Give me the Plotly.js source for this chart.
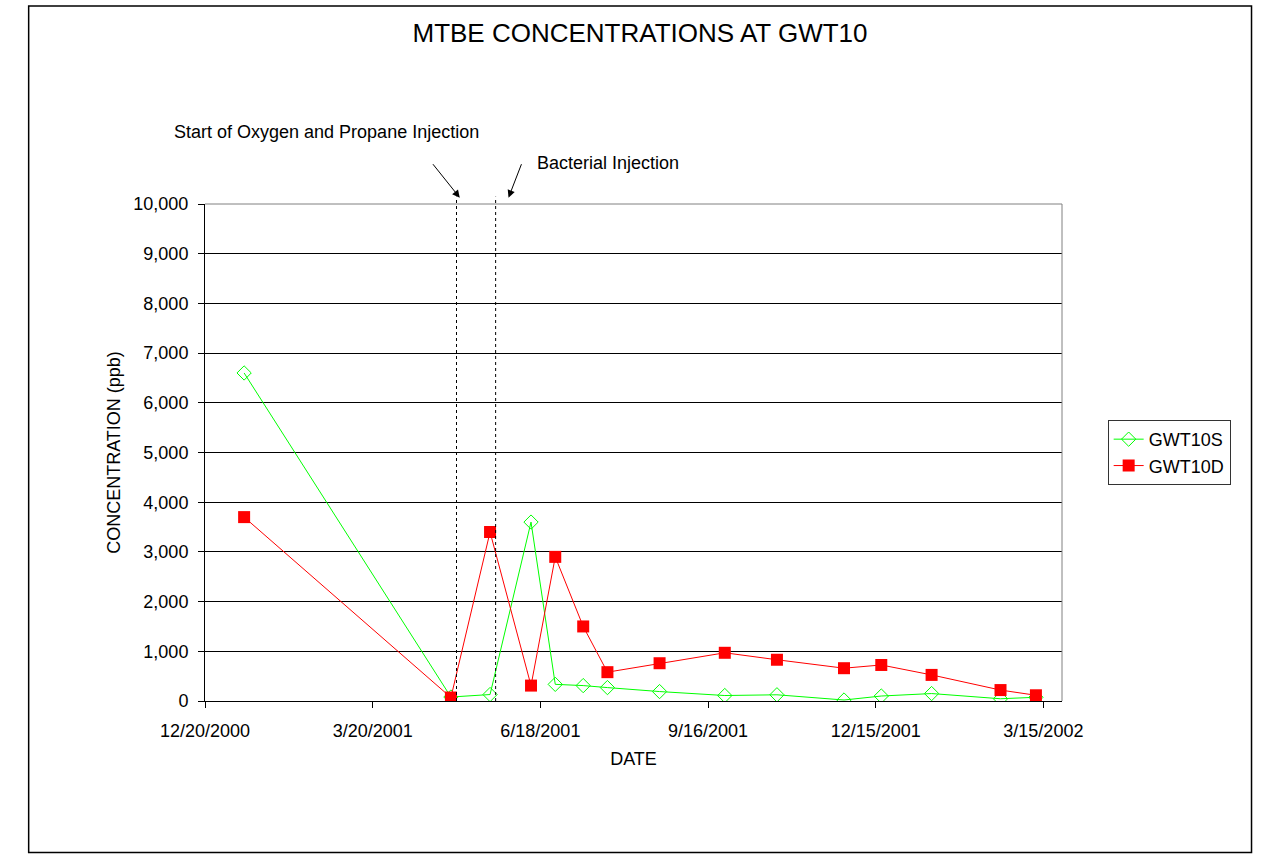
<!DOCTYPE html>
<html>
<head>
<meta charset="utf-8">
<script src="https://cdn.plot.ly/plotly-3.0.1.min.js"></script>
<style>
html,body{margin:0;padding:0;background:#fff;}
#chart{width:1286px;height:862px;}
</style>
</head>
<body>
<div id="chart"></div>
<script>
// ---- data ----
var sampleDates = ['2001-01-10','2001-05-01','2001-05-22','2001-06-13','2001-06-26','2001-07-11','2001-07-24','2001-08-21','2001-09-25','2001-10-23','2001-11-28','2001-12-18','2002-01-14','2002-02-20','2002-03-11'];
var gwt10s = [6600, 80, 130, 3600, 335, 310, 270, 190, 110, 125, 20, 100, 150, 45, 75];
var gwt10d = [3700, 70, 3400, 310, 2900, 1500, 580, 760, 970, 830, 660, 725, 525, 220, 115];
var xTickVals = ['2000-12-20','2001-03-20','2001-06-18','2001-09-16','2001-12-15','2002-03-15'];
var xTickText = ['12/20/2000','3/20/2001','6/18/2001','9/16/2001','12/15/2001','3/15/2002'];
var yTickVals = [0,1000,2000,3000,4000,5000,6000,7000,8000,9000,10000];
var yTickText = ['0','1,000','2,000','3,000','4,000','5,000','6,000','7,000','8,000','9,000','10,000'];
var eventDates = ['2001-05-04','2001-05-25'];
var eventLabels = ['Start of Oxygen and Propane Injection','Bacterial Injection'];

var FONT = 'Arial, "Liberation Sans", sans-serif';

var traces = [
  {x: sampleDates, y: gwt10s, name: 'GWT10S', type: 'scatter', mode: 'lines+markers',
   line: {color: '#00FF00', width: 1},
   marker: {symbol: 'diamond-open', size: 11, color: '#00FF00', line: {width: 1, color: '#00FF00'}}},
  {x: sampleDates, y: gwt10d, name: 'GWT10D', type: 'scatter', mode: 'lines+markers',
   line: {color: '#FF0000', width: 1},
   marker: {symbol: 'square', size: 12, color: '#FF0000', line: {width: 0}}}
];

// plot area geometry (px)
var L = 204.5, R = 1062.3, T = 204.3, B = 700.7;
var W = R - L, H = B - T;
function px(xp){ return (xp - L) / W; }
function py(yp){ return (B - yp) / H; }

var shapes = [
  // outer chart border
  {type: 'rect', xref: 'paper', yref: 'paper', x0: px(28), x1: px(1252), y0: py(852), y1: py(6.5),
   line: {color: '#000', width: 1.5}, layer: 'below'},
  // plot area top and right border (grey)
  {type: 'line', xref: 'paper', yref: 'paper', x0: 0, x1: 1, y0: 1, y1: 1, line: {color: '#808080', width: 1}},
  {type: 'line', xref: 'paper', yref: 'paper', x0: 1, x1: 1, y0: 0, y1: 1, line: {color: '#808080', width: 1}}
];
eventDates.forEach(function(d){
  shapes.push({type: 'line', xref: 'x', yref: 'paper', x0: d, x1: d, y0: 0, y1: py(197),
    line: {color: '#000', width: 1, dash: 'dot'}});
});

var annotations = [
  {xref: 'paper', yref: 'paper', x: px(326.5), y: py(132), text: eventLabels[0], showarrow: false,
   font: {family: FONT, size: 18, color: '#000'}, xanchor: 'center', yanchor: 'middle'},
  {xref: 'paper', yref: 'paper', x: px(608), y: py(163), text: eventLabels[1], showarrow: false,
   font: {family: FONT, size: 18, color: '#000'}, xanchor: 'center', yanchor: 'middle'},
  {xref: 'paper', yref: 'paper', x: px(459.5), y: py(198), ax: -28, ay: -35, text: '', showarrow: true,
   arrowhead: 2, arrowsize: 1.5, arrowwidth: 1, arrowcolor: '#000', standoff: 0},
  {xref: 'paper', yref: 'paper', x: px(508.3), y: py(198), ax: 13.5, ay: -35, text: '', showarrow: true,
   arrowhead: 2, arrowsize: 1.5, arrowwidth: 1, arrowcolor: '#000', standoff: 0}
];

var layout = {
  width: 1286, height: 862,
  paper_bgcolor: '#fff', plot_bgcolor: '#fff',
  margin: {l: L, r: 1286 - R, t: T, b: 862 - B, pad: 0},
  font: {family: FONT, size: 18, color: '#000'},
  title: {text: 'MTBE CONCENTRATIONS AT GWT10', font: {family: FONT, size: 26, color: '#000'},
          x: 640/1286, xref: 'container', xanchor: 'center', y: 1 - 33/862, yref: 'container', yanchor: 'middle'},
  xaxis: {type: 'date', range: ['2000-12-20', '2002-03-25'], tickmode: 'array', tickvals: xTickVals, ticktext: xTickText,
          ticks: 'outside', ticklen: 6, tickcolor: '#000', tickwidth: 1, showgrid: false, zeroline: false,
          showline: true, linecolor: '#000', linewidth: 1, ticklabelstandoff: 7,
          tickfont: {family: FONT, size: 18, color: '#000'},
          title: {text: 'DATE', font: {family: FONT, size: 18, color: '#000'}, standoff: 12}},
  yaxis: {range: [0, 10000], tickmode: 'array', tickvals: yTickVals, ticktext: yTickText,
          ticks: 'outside', ticklen: 6, tickcolor: '#000', tickwidth: 1, showgrid: true, gridcolor: '#000', gridwidth: 1,
          zeroline: false, showline: true, linecolor: '#000', linewidth: 1, ticklabelstandoff: 6,
          tickfont: {family: FONT, size: 18, color: '#000'},
          title: {text: 'CONCENTRATION (ppb)', font: {family: FONT, size: 18, color: '#000'}, standoff: 8}},
  showlegend: true,
  legend: {x: px(1108), y: py(420), xanchor: 'left', yanchor: 'top', bgcolor: '#fff', bordercolor: '#333', borderwidth: 1,
           font: {family: FONT, size: 18, color: '#000'}, tracegroupgap: 0, itemwidth: 30},
  shapes: shapes,
  annotations: annotations
};

Plotly.newPlot('chart', traces, layout, {displayModeBar: false, staticPlot: true});
</script>
</body>
</html>
